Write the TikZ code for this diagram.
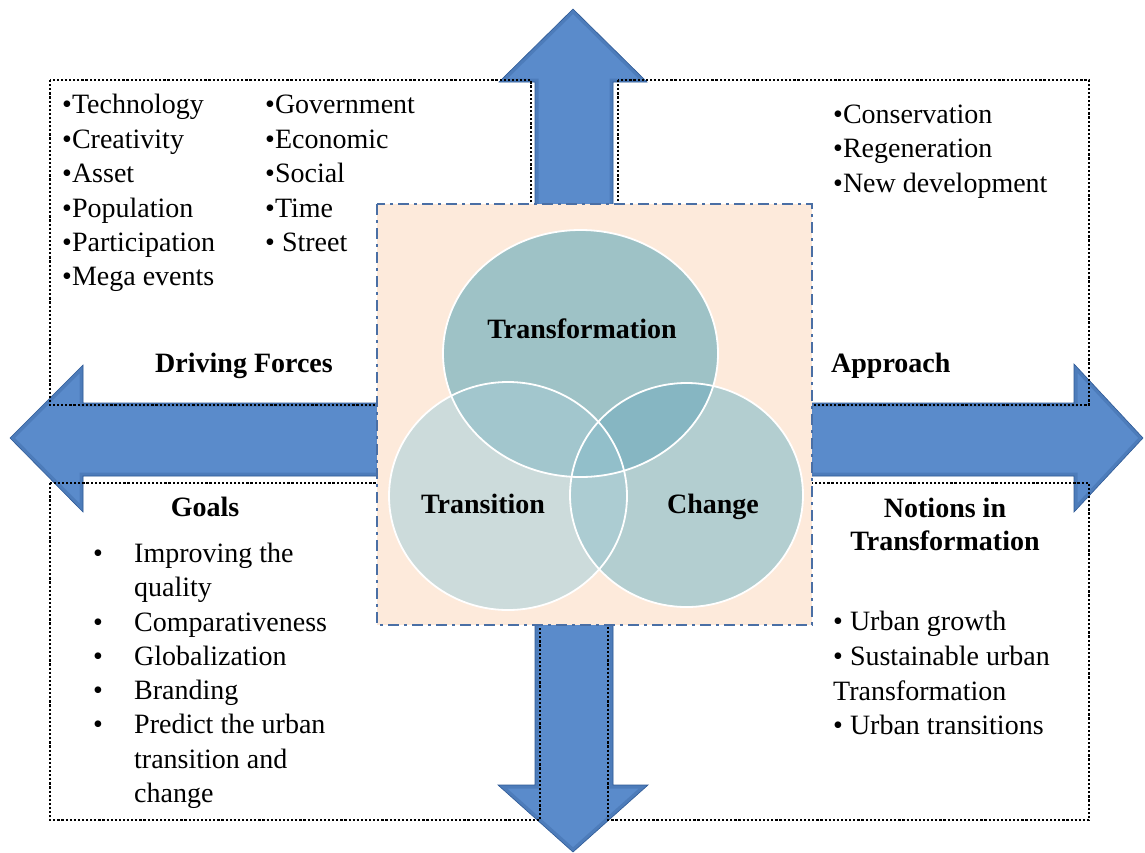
\documentclass[tikz,border=0pt]{standalone}
\usepackage{fontspec}
\setmainfont{Liberation Serif}
\definecolor{arrowblue}{HTML}{5A8BCB}
\definecolor{arrowdark}{HTML}{2F5A96}
\definecolor{peach}{HTML}{FDEADB}
\definecolor{boxblue}{HTML}{4A6FA5}
\definecolor{cT}{HTML}{9EC2C6}
\definecolor{cR}{HTML}{CCDBDB}
\definecolor{cC}{HTML}{B3CED0}
\definecolor{cTR}{HTML}{A2C6CD}
\definecolor{cTC}{HTML}{86B6C2}
\definecolor{cRC}{HTML}{ACCCD2}
\definecolor{cTRC}{HTML}{92BFCA}
\begin{document}
\begin{tikzpicture}[x=1pt,y=-1pt,
  txt/.style={inner sep=0pt, anchor=base west, font=\fontsize{28}{32}\selectfont},
  lbl/.style={inner sep=0pt, anchor=base, font=\fontsize{28}{32}\selectfont\bfseries},
  dotbox/.style={draw=black, line width=2.2pt, dash pattern=on 2.2pt off 1.9pt},
  centerbox/.style={fill=peach, draw=boxblue, line width=2.6pt, dash pattern=on 11pt off 5pt on 3pt off 5pt},
  ring/.style={draw=white, line width=1.8pt}]
\useasboundingbox[fill=white] (0,0) rectangle (1145,852);

% double arrows
\def\vpath{(573,9) -- (647,82) -- (613,82) -- (613,785) -- (648,785) -- (573,852) -- (498,785) -- (535,785) -- (535,82) -- (499,82) -- cycle}
\def\hpath{(10,438) -- (83,365) -- (83,403) -- (1074,403) -- (1074,364) -- (1143,438) -- (1074,512) -- (1074,476) -- (83,476) -- (83,512) -- cycle}
\fill[arrowblue] \vpath;
\begin{scope}\clip \vpath; \draw[line width=7pt, arrowdark, opacity=0.3] \vpath; \end{scope}
\draw[arrowdark, line width=0.6pt] \vpath;
\fill[arrowblue] \hpath;
\begin{scope}\clip \hpath; \draw[line width=7pt, arrowdark, opacity=0.3] \hpath; \end{scope}
\draw[arrowdark, line width=0.6pt] \hpath;

% dotted boxes
\draw[dotbox] (50,80) rectangle (531,405);
\draw[dotbox] (618,80) rectangle (1089,405);
\draw[dotbox] (50,483) rectangle (540,820);
\draw[dotbox] (608,483) rectangle (1089,820);

% centre box
\draw[centerbox] (377,204) rectangle (812,625);

% Venn circles
\def\pT{(580.5,353.5) ellipse [x radius=137.5pt, y radius=123.5pt]}
\def\pR{(508,496) ellipse [x radius=119pt, y radius=114pt]}
\def\pC{(686.5,495) ellipse [x radius=116.5pt, y radius=112pt]}
\fill[cT] \pT;
\fill[cR] \pR;
\fill[cC] \pC;
\begin{scope}\clip \pT; \fill[cTR] \pR; \end{scope}
\begin{scope}\clip \pT; \fill[cTC] \pC; \end{scope}
\begin{scope}\clip \pR; \fill[cRC] \pC; \end{scope}
\begin{scope}\clip \pT; \clip \pR; \fill[cTRC] \pC; \end{scope}
\draw[ring] \pT;
\draw[ring] \pR;
\draw[ring] \pC;

\node[lbl] (ltrans) at (582,338) {Transformation};
\node[lbl] (ltransi) at (483,513) {Transition};
\node[lbl] (lchange) at (713,513) {Change};

% driving forces
\node[txt] (d1) at (62,113) {•Technology};
\node[txt] (d2) at (62,148) {•Creativity};
\node[txt] (d3) at (62,182) {•Asset};
\node[txt] (d4) at (62,217) {•Population};
\node[txt] (d5) at (62,251) {•Participation};
\node[txt] (d6) at (62,285) {•Mega events};
\node[txt] (e1) at (265,113) {•Government};
\node[txt] (e2) at (265,148) {•Economic};
\node[txt] (e3) at (265,182) {•Social};
\node[txt] (e4) at (265,217) {•Time};
\node[txt] (e5) at (265,251) {• Street};
\node[lbl] (ldf) at (244,372) {Driving Forces};

% approach
\node[txt] (a1) at (833,123) {•Conservation};
\node[txt] (a2) at (833,157) {•Regeneration};
\node[txt] (a3) at (833,192) {•New development};
\node[lbl, anchor=base west] (lap) at (831,372) {Approach};

% goals
\node[lbl] (lgoals) at (205,516) {Goals};
\foreach \y/\t/\b [count=\i] in {562/Improving the/1, 596/quality/0, 631/Comparativeness/1, 665/Globalization/1, 699/Branding/1, 733/Predict the urban/1, 768/transition and/0, 802/change/0}{
  \node[txt] (g\i) at (134,\y) {\t};
  \ifnum\b=1 \node[txt] (gb\i) at (93,\y) {•}; \fi
}

% notions
\node[lbl] (lnot1) at (945,517) {Notions in};
\node[lbl] (lnot2) at (945,550) {Transformation};
\node[txt] (n1) at (833,630) {• Urban growth};
\node[txt] (n2) at (833,665) {• Sustainable urban};
\node[txt] (n3) at (833,700) {Transformation};
\node[txt] (n4) at (833,734) {• Urban transitions};
\end{tikzpicture}
\end{document}
